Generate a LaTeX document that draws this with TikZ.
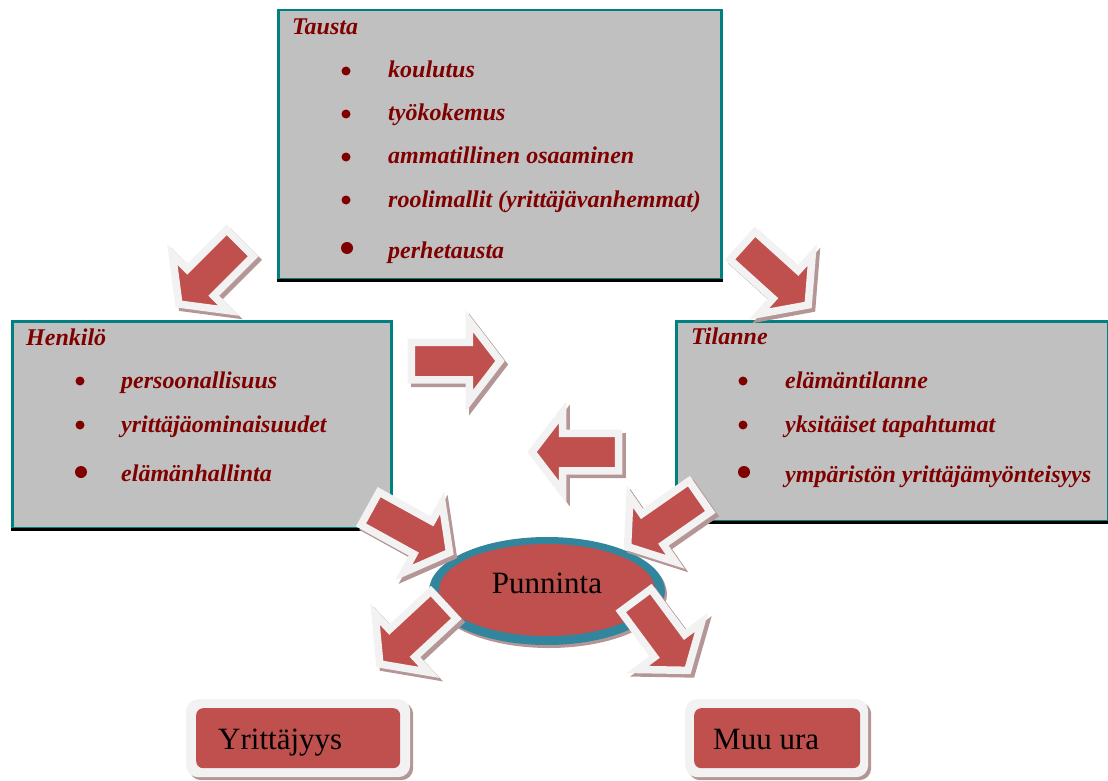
\documentclass[tikz,border=0pt]{standalone}
\usepackage{fontspec}
\setmainfont{Liberation Serif}
\usetikzlibrary{shapes.arrows,shapes.geometric}
\definecolor{arrred}{HTML}{C0504D}
\definecolor{arrgray}{HTML}{F2F2F2}
\definecolor{shadowc}{HTML}{B59696}
\definecolor{tealb}{HTML}{008080}
\definecolor{ellteal}{HTML}{31859C}
\definecolor{boxgray}{HTML}{C0C0C0}
\definecolor{txtred}{HTML}{800000}
\tikzset{
  infobox/.style={rectangle, fill=boxgray, draw=tealb, line width=2.5pt, anchor=north west, inner sep=0pt},
  itemtext/.style={anchor=base west, inner sep=0pt, text=txtred, font=\fontsize{24}{28}\selectfont\bfseries\itshape},
  bulletdot/.style={circle, fill=txtred, draw=none, inner sep=0pt, minimum size=9pt},
  bigdot/.style={bulletdot, minimum size=12pt},
  blockarrow/.style={single arrow, fill=arrred, draw=arrgray, line width=7.5pt, line join=miter,
    inner xsep=0pt, inner ysep=15pt, single arrow head extend=21pt, single arrow tip angle=105, anchor=center},
  blockshadow/.style={blockarrow, fill=shadowc, draw=shadowc},
  resframe/.style={rectangle, rounded corners=12pt, fill=arrgray, anchor=north west, inner sep=0pt},
  resshadow/.style={resframe, fill=shadowc},
  resred/.style={rectangle, rounded corners=7pt, fill=arrred, anchor=north west, inner sep=0pt},
  restext/.style={anchor=base west, inner sep=0pt, font=\fontsize{31}{36}\selectfont},
}
% name, tail x, tail y, tip x, tip y (pixel coordinates, y downwards)
\newcommand{\blockarr}[5]{%
  \pgfmathsetmacro{\baang}{atan2(-(#5-#3),#4-#2)}%
  \pgfmathsetmacro{\balen}{veclen(#4-#2,#5-#3)-8.5}%
  \pgfmathsetmacro{\bacx}{(#2+#4)/2}%
  \pgfmathsetmacro{\bacy}{(#3+#5)/2}%
  \node[blockshadow, rotate=\baang, minimum height=\balen pt] (#1s) at (\bacx+3.5,\bacy+3.5) {};
  \node[blockarrow, rotate=\baang, minimum height=\balen pt] (#1) at (\bacx,\bacy) {};
}
\begin{document}
\begin{tikzpicture}[x=1pt,y=-1pt]
\useasboundingbox (0,0) rectangle (1108,781);

% ---- Tausta box
\node[infobox, minimum width=443pt, minimum height=269pt] (tausta) at (277,9) {};
\draw[black, line width=3pt] (tausta.south west) -- (tausta.south east);
\node[itemtext] (taustat) at (292,35) {Tausta};
\node[bulletdot] (tb1) at (346,71) {};
\node[bulletdot] (tb2) at (346,114) {};
\node[bulletdot] (tb3) at (346,157) {};
\node[bulletdot] (tb4) at (346,200) {};
\node[bigdot] (tb5) at (347,248) {};
\node[itemtext] (ti1) at (388,78) {koulutus};
\node[itemtext] (ti2) at (388,121) {työkokemus};
\node[itemtext] (ti3) at (388,164) {ammatillinen osaaminen};
\node[itemtext] (ti4) at (388,207) {roolimallit (yrittäjävanhemmat)};
\node[itemtext] (ti5) at (388,258) {perhetausta};

% ---- Henkilo box
\node[infobox, minimum width=379pt, minimum height=207pt] (henkilo) at (11,320) {};
\draw[black, line width=3pt] (henkilo.south west) -- (henkilo.south east);
\node[itemtext] (henkilot) at (26,345) {Henkilö};
\node[bulletdot] (hb1) at (80,381) {};
\node[bulletdot] (hb2) at (80,425) {};
\node[bigdot] (hb3) at (81,472) {};
\node[itemtext] (hi1) at (121,388) {persoonallisuus};
\node[itemtext] (hi2) at (121,432) {yrittäjäominaisuudet};
\node[itemtext] (hi3) at (121,481) {elämänhallinta};

% ---- Tilanne box
\node[infobox, minimum width=432pt, minimum height=200pt] (tilanne) at (675,320) {};
\draw[black, line width=3pt] (tilanne.south west) -- (tilanne.south east);
\node[itemtext] (tilannet) at (691,344) {Tilanne};
\node[bulletdot] (sb1) at (743,381) {};
\node[bulletdot] (sb2) at (743,425) {};
\node[bigdot] (sb3) at (744,472) {};
\node[itemtext] (si1) at (785,388) {elämäntilanne};
\node[itemtext] (si2) at (785,432) {yksitäiset tapahtumat};
\node[itemtext] (si3) at (785,482) {ympäristön yrittäjämyönteisyys};

% ---- Punninta ellipse
\node[ellipse, fill=shadowc, minimum width=236pt, minimum height=108pt, inner sep=0pt] (punshadow) at (549,594) {};
\node[ellipse, fill=ellteal, minimum width=236pt, minimum height=108pt, inner sep=0pt] (punouter) at (547,591) {};
\node[ellipse, fill=arrred, minimum width=216pt, minimum height=92pt, inner sep=0pt] (punninta) at (547,590) {};
\node[anchor=base, inner sep=0pt, font=\fontsize{31}{36}\selectfont] (punlabel) at (547,593) {Punninta};

% ---- result boxes
\node[resshadow, minimum width=224pt, minimum height=78pt] (yrshadow) at (189,702) {};
\node[resframe, minimum width=224pt, minimum height=78pt] (yrframe) at (186,699) {};
\node[resred, minimum width=204pt, minimum height=60pt] (yrbox) at (196,708) {};
\node[restext] (yrtext) at (218,749) {Yrittäjyys};

\node[resshadow, minimum width=183pt, minimum height=78pt] (mushadow) at (688,702) {};
\node[resframe, minimum width=183pt, minimum height=78pt] (muframe) at (685,699) {};
\node[resred, minimum width=166pt, minimum height=60pt] (mubox) at (694,708) {};
\node[restext] (mutext) at (713,749) {Muu ura};

% ---- block arrows
\blockarr{a1}{248}{235}{181}{302}
\blockarr{a2}{734}{238}{806}{303}
\blockarr{a3}{400}{361}{497}{361}
\blockarr{a4}{630}{452}{535}{452}
\blockarr{a5}{360}{503}{447}{551}
\blockarr{a6}{709}{490}{630}{545}
\blockarr{a7}{452}{597}{382}{662}
\blockarr{a8}{629}{591}{686}{668}
\end{tikzpicture}
\end{document}
